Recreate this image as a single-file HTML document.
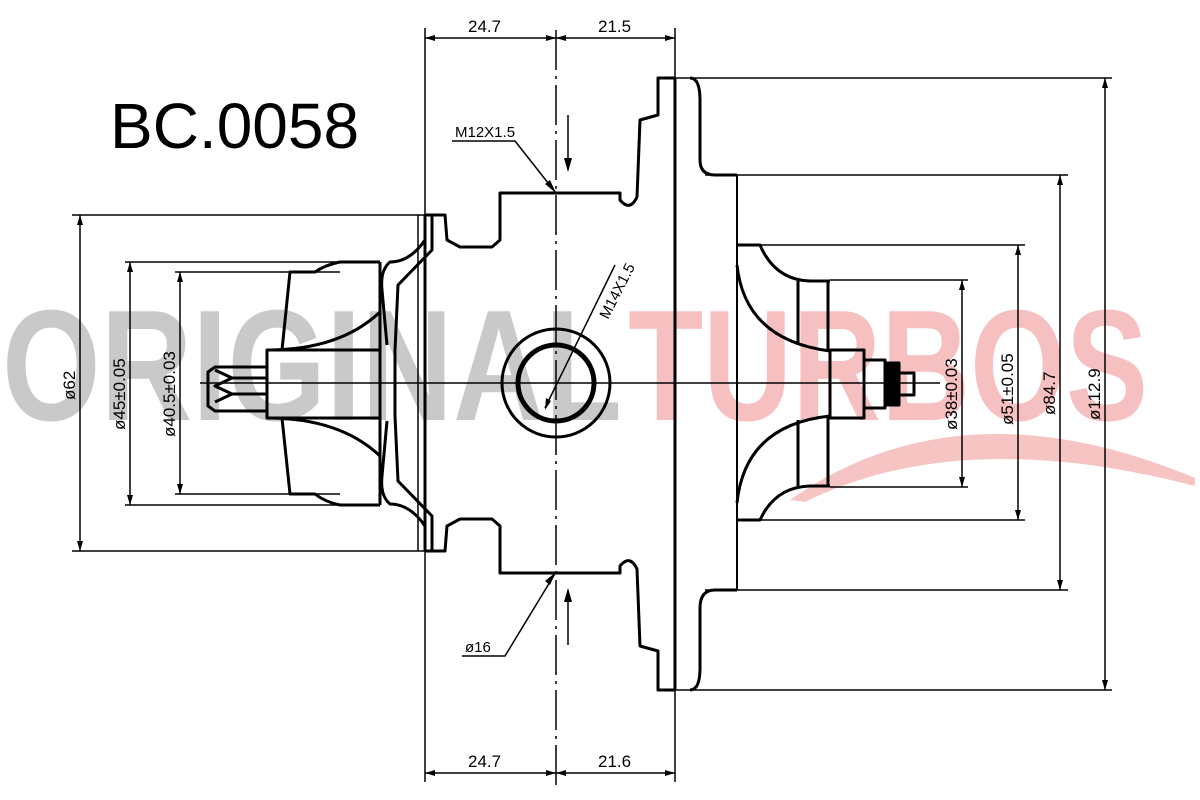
<!DOCTYPE html>
<html><head><meta charset="utf-8"><style>html,body{margin:0;padding:0;background:#fff}svg{display:block}</style></head>
<body>
<svg width="1200" height="800" viewBox="0 0 1200 800" xmlns="http://www.w3.org/2000/svg" font-family="Liberation Sans, sans-serif">
<!-- watermark -->
<path d="M790,500 Q960,380 1195,478 L1195,486 Q960,425 805,502 Z" fill="#f7c4c4"/>
<text x="2" y="420" font-size="158" font-weight="bold" fill="#c9c9c9" textLength="620" lengthAdjust="spacingAndGlyphs">ORIGINAL</text>
<text x="628" y="420" font-size="158" font-weight="bold" fill="#f6c0c0" textLength="520" lengthAdjust="spacingAndGlyphs">TURBOS</text>

<text x="110" y="148" font-size="64" fill="#000">BC.0058</text>

<g stroke="#000" fill="none" stroke-width="1.5">
<line x1="200" y1="383" x2="940" y2="383"/>
<line x1="556" y1="30" x2="556" y2="785" stroke-dasharray="40,6,3,6"/>
<line x1="425" y1="28" x2="425" y2="782"/>
<line x1="675" y1="28" x2="675" y2="782"/>
<line x1="425" y1="38" x2="675" y2="38"/>
<line x1="425" y1="773" x2="675" y2="773"/>
<line x1="72" y1="215" x2="425" y2="215"/>
<line x1="72" y1="551" x2="425" y2="551"/>
<line x1="125" y1="262" x2="380" y2="262"/>
<line x1="125" y1="505" x2="380" y2="505"/>
<line x1="175" y1="272" x2="340" y2="272"/>
<line x1="175" y1="494" x2="340" y2="494"/>
<line x1="80" y1="215" x2="80" y2="551"/>
<line x1="130" y1="262" x2="130" y2="505"/>
<line x1="180" y1="272" x2="180" y2="494"/>
<line x1="675" y1="78" x2="1112" y2="78"/>
<line x1="675" y1="690" x2="1112" y2="690"/>
<line x1="705" y1="175" x2="1068" y2="175"/>
<line x1="705" y1="590" x2="1068" y2="590"/>
<line x1="737" y1="245" x2="1025" y2="245"/>
<line x1="737" y1="520" x2="1025" y2="520"/>
<line x1="830" y1="280" x2="968" y2="280"/>
<line x1="830" y1="487" x2="968" y2="487"/>
<line x1="962" y1="280" x2="962" y2="487"/>
<line x1="1018" y1="245" x2="1018" y2="520"/>
<line x1="1060" y1="175" x2="1060" y2="590"/>
<line x1="1105" y1="78" x2="1105" y2="690"/>
<polyline points="452,141 515,141 556,193"/>
<line x1="568" y1="115" x2="568" y2="170"/>
<polyline points="462,656 505,656 556,572"/>
<line x1="568" y1="645" x2="568" y2="590"/>
<line x1="615" y1="265" x2="545" y2="408"/>
</g>

<g fill="#000">
<path d="M425,38 l10,-3 v6z M556,38 l-10,-3 v6z M556,38 l10,-3 v6z M675,38 l-10,-3 v6z"/>
<path d="M425,773 l10,-3 v6z M556,773 l-10,-3 v6z M556,773 l10,-3 v6z M675,773 l-10,-3 v6z"/>
<path d="M80,215 l-3,10 h6z M80,551 l-3,-10 h6z M130,262 l-3,10 h6z M130,505 l-3,-10 h6z M180,272 l-3,10 h6z M180,494 l-3,-10 h6z"/>
<path d="M962,280 l-3,10 h6z M962,487 l-3,-10 h6z M1018,245 l-3,10 h6z M1018,520 l-3,-10 h6z M1060,175 l-3,10 h6z M1060,590 l-3,-10 h6z M1105,78 l-3,10 h6z M1105,690 l-3,-10 h6z"/>
<path d="M568,172 l-4,-14 h8z M568,588 l-4,14 h8z"/>
<path d="M556,193 l-11,-9 5,-4z M556,572 l-11,9 5,4z M545,410 l1,-12 5,3z"/>
</g>

<g stroke="#000" fill="none" stroke-width="3" stroke-linejoin="round">
<line x1="675" y1="78" x2="675" y2="690"/>
<path d="M675,78 H658 V115 L640,120 L637,197 Q630,212 620,200 L620,193 H500 V240 L492,247 H460 L447,240 L445,215 H425"/>
<path d="M675,690 H658 V651 L640,646 L637,569 Q630,554 620,566 L620,573 H500 V526 L492,519 H460 L447,526 L445,551 H425"/>
<line x1="425" y1="215" x2="425" y2="551"/>
<line x1="418" y1="215" x2="418" y2="551" stroke-width="1.5"/>
<path d="M432,215 L432,250 L398,285 L395,350 V416 L398,481 L432,516 L432,551"/>
<path d="M425,240 Q410,262 390,262 Q380,270 382,290 L387,345"/>
<path d="M425,526 Q410,504 390,504 Q380,496 382,476 L387,421"/>
<path d="M380,262 V505"/>
<path d="M380,262 H340 Q325,265 315,272 H290 L282,350"/>
<path d="M380,505 H340 Q325,502 315,494 H290 L282,418"/>
<rect x="267" y="350" width="113" height="68" stroke-width="3"/>
<path d="M267,350 Q340,350 380,312" />
<path d="M267,418 Q340,418 380,456" />
<path d="M267,367 H215 L208,372 V406 L215,411 H267"/>
<path d="M215,370 L232,378 L215,386 L232,394 L215,402 M232,378 H267 M232,394 H267"/>
<circle cx="556" cy="383" r="54"/>
<circle cx="556" cy="383" r="38" stroke-width="5"/>
<path d="M690,78 Q700,78 700,100 V160 Q700,175 715,175 H737"/>
<path d="M690,690 Q700,690 700,668 V608 Q700,590 715,590 H737"/>
<line x1="737" y1="175" x2="737" y2="590" stroke-width="2"/>
<path d="M737,245 H760 Q775,280 810,281 H830"/>
<path d="M737,520 H760 Q775,487 810,486 H830"/>
<path d="M737,265 Q745,340 830,351"/>
<path d="M737,503 Q745,425 830,416"/>
<path d="M798,281 V345 M828,281 V351 M798,486 V420 M828,486 V416"/>
<rect x="830" y="350" width="34" height="68"/>
<rect x="864" y="360" width="21" height="48"/>
<rect x="885" y="363" width="14" height="42" fill="#000"/>
<rect x="899" y="373" width="15" height="22"/>
</g>

<g font-size="17" fill="#000">
<text x="468" y="32">24.7</text>
<text x="598" y="32">21.5</text>
<text x="468" y="767">24.7</text>
<text x="598" y="767">21.6</text>
<text x="455" y="137" font-size="15">M12X1.5</text>
<text x="465" y="652" font-size="15">ø16</text>
<text transform="translate(608,320) rotate(-63)" font-size="15">M14X1.5</text>
<text transform="translate(75,400) rotate(-90)">ø62</text>
<text transform="translate(125,430) rotate(-90)">ø45±0.05</text>
<text transform="translate(175,437) rotate(-90)">ø40.5±0.03</text>
<text transform="translate(957,430) rotate(-90)">ø38±0.03</text>
<text transform="translate(1013,425) rotate(-90)">ø51±0.05</text>
<text transform="translate(1055,415) rotate(-90)">ø84.7</text>
<text transform="translate(1100,420) rotate(-90)">ø112.9</text>
</g>
</svg>
</body></html>
